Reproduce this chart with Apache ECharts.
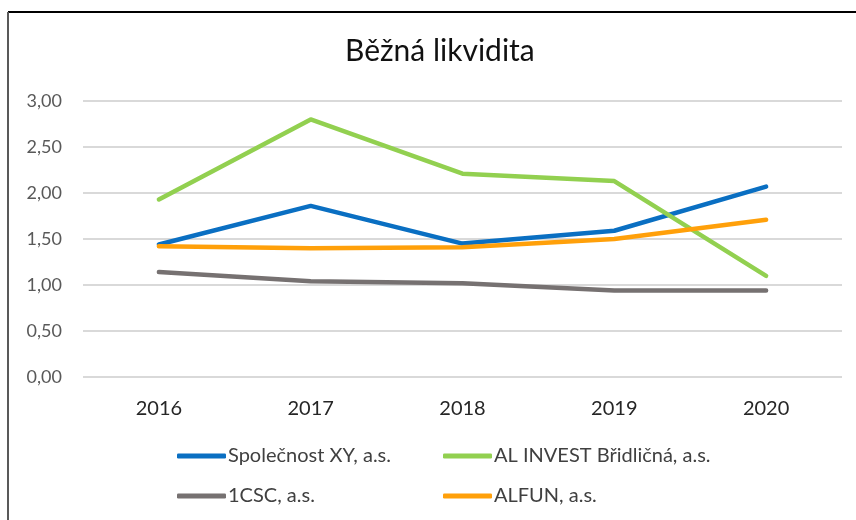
<!DOCTYPE html>
<html>
<head>
<meta charset="utf-8">
<script src="https://cdn.jsdelivr.net/npm/echarts@6/dist/echarts.min.js"></script>
<style>
  html, body { margin: 0; padding: 0; background: #fff; }
</style>
</head>
<body>
<div id="likvidita" style="width:856px;height:520px"></div>
<script>
// roky a hodnoty běžné likvidity
let years = ['2016', '2017', '2018', '2019', '2020']
let spolecnostXY = [1.44, 1.86, 1.45, 1.59, 2.07]
let alInvest = [1.93, 2.80, 2.21, 2.13, 1.10]
let csc = [1.14, 1.04, 1.02, 0.94, 0.94]
let alfun = [1.42, 1.40, 1.41, 1.50, 1.71]
let yTicks = [0, 0.5, 1, 1.5, 2, 2.5, 3]

let names = ['Společnost XY, a.s.', 'AL INVEST Břidličná, a.s.', '1CSC, a.s.', 'ALFUN, a.s.']
let colors = ['#0a6fc2', '#92d050', '#767171', '#ffa00a']
let font = 'Lato, "Open Sans", sans-serif'

function lineSeries(name, data, color) {
  return {
    name: name,
    type: 'line',
    data: data,
    symbol: 'none',
    color: color,
    lineStyle: { width: 4.5, color: color, cap: 'round', join: 'round' },
    emphasis: { disabled: true }
  }
}

function legendItem(name, left, top) {
  return {
    data: [name],
    left: left,
    top: top,
    padding: 0,
    icon: 'roundRect',
    itemWidth: 49,
    itemHeight: 5,
    itemGap: 0,
    selectedMode: false,
    textStyle: { color: '#404040', fontSize: 20, fontFamily: font, padding: [0, 0, 0, -3] }
  }
}

let chart = echarts.init(document.getElementById('likvidita'))
chart.setOption({
  animation: false,
  title: {
    text: 'Běžná likvidita',
    left: 340,
    top: 31,
    textStyle: { color: '#111', fontSize: 30, fontWeight: 'normal', fontFamily: font }
  },
  legend: [
    legendItem(names[0], 177, 446),
    legendItem(names[1], 443, 446),
    legendItem(names[2], 177, 486),
    legendItem(names[3], 443, 486)
  ],
  grid: { left: 83, right: 14, top: 101, bottom: 143, containLabel: false },
  xAxis: {
    type: 'category',
    data: years,
    boundaryGap: true,
    axisLine: { show: false },
    axisTick: { show: false },
    axisLabel: { color: '#262626', fontSize: 20, fontFamily: font, margin: 22 }
  },
  yAxis: {
    type: 'value',
    min: yTicks[0],
    max: yTicks[yTicks.length - 1],
    interval: yTicks[1] - yTicks[0],
    axisLine: { show: false },
    axisTick: { show: false },
    splitLine: { lineStyle: { color: '#d9d9d9', width: 2 } },
    axisLabel: {
      color: '#595959',
      fontSize: 18,
      fontFamily: font,
      margin: 21,
      formatter: v => v.toFixed(2).replace('.', ',')
    }
  },
  series: [
    lineSeries(names[0], spolecnostXY, colors[0]),
    lineSeries(names[1], alInvest, colors[1]),
    lineSeries(names[2], csc, colors[2]),
    lineSeries(names[3], alfun, colors[3])
  ],
  graphic: [
    { type: 'line', shape: { x1: 8, y1: 12, x2: 856, y2: 12 }, style: { stroke: '#000', lineWidth: 2 } },
    { type: 'line', shape: { x1: 8, y1: 12, x2: 8, y2: 520 }, style: { stroke: '#595959', lineWidth: 2 } }
  ]
})
</script>
</body>
</html>
